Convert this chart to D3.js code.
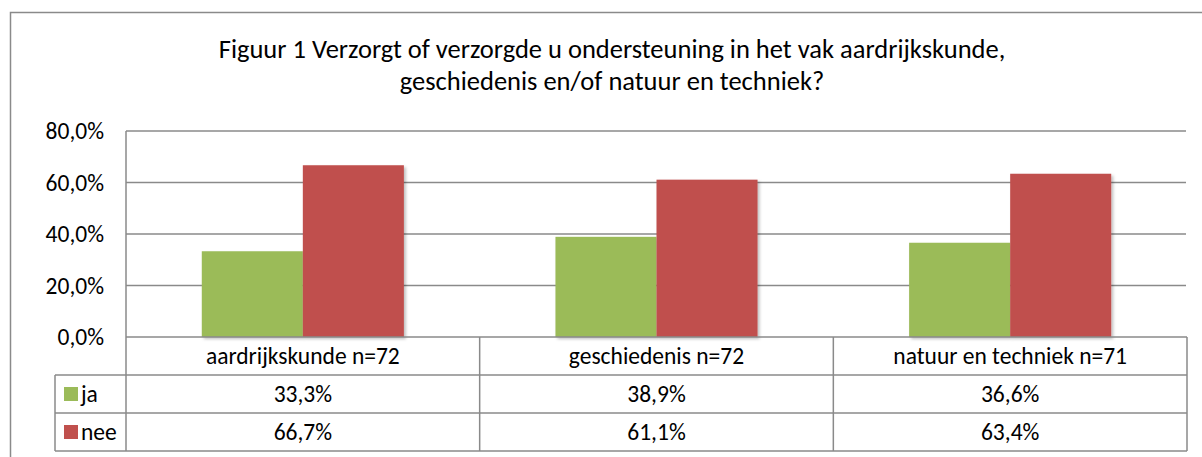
<!DOCTYPE html>
<meta charset="utf-8">
<style>
    body { margin: 0; background: #fff; }
    svg text { font-family: Carlito, Calibri, 'Noto Sans', sans-serif; fill: #000; }
    .grid line { stroke: #8a8a8a; stroke-width: 1.5; }
    .tbl line { stroke: #8a8a8a; stroke-width: 1.5; }
</style>
<body>
<script src="https://cdn.jsdelivr.net/npm/d3@7"></script>
<script>
    // data
    var categories = ["aardrijkskunde n=72", "geschiedenis n=72", "natuur en techniek n=71"];
    var series = ["ja", "nee"];
    var jaValues = [0.333, 0.389, 0.366];
    var neeValues = [0.667, 0.611, 0.634];
    var yTicks = [0, 0.2, 0.4, 0.6, 0.8];
    var titleLines = ["Figuur 1 Verzorgt of verzorgde u ondersteuning in het vak aardrijkskunde,",
                      "geschiedenis en/of natuur en techniek?"];
    var colors = { ja: "#9bbb59", nee: "#c0504d" };

    var width = 1202, height = 457;
    var plotLeft = 126, plotRight = 1187, plotTop = 131, plotBottom = 337;
    var legendLeft = 55, rowH = 38;

    var svg = d3.select("body").append("svg")
        .attr("width", width)
        .attr("height", height);

    var defs = svg.append("defs");
    var f = defs.append("filter").attr("id", "shadow")
        .attr("x", "-10%").attr("y", "-10%").attr("width", "130%").attr("height", "130%");
    f.append("feDropShadow").attr("dx", 2).attr("dy", 2).attr("stdDeviation", 1.5)
        .attr("flood-color", "#000").attr("flood-opacity", 0.25);

    // outer chart border (runs off the picture at right/bottom)
    svg.append("rect")
        .attr("x", 10.5).attr("y", 12.5)
        .attr("width", 1300).attr("height", 600)
        .attr("fill", "none").attr("stroke", "#8a8a8a").attr("stroke-width", 1.5);

    // title
    svg.append("text")
        .attr("x", 612).attr("y", 58)
        .attr("text-anchor", "middle")
        .style("font-size", "26.5px")
        .selectAll("tspan")
        .data(titleLines)
        .enter().append("tspan")
        .attr("x", 612)
        .attr("dy", function(d, i) { return i === 0 ? 0 : 32; })
        .text(function(d) { return d; });

    var y = d3.scaleLinear().domain([0, 0.8]).range([plotBottom, plotTop]);
    var x0 = d3.scaleBand().domain(categories).range([plotLeft, plotRight]).padding(0);
    var x1 = d3.scaleBand().domain(series).range([0, x0.bandwidth()])
        .paddingInner(0).paddingOuter(0.75);

    var fmt = function(v) { return d3.format(".1%")(v).replace(".", ","); };

    // gridlines
    svg.append("g").attr("class", "grid")
        .selectAll("line")
        .data(yTicks.filter(function(t) { return t > 0; }))
        .enter().append("line")
        .attr("x1", plotLeft).attr("x2", plotRight - 1)
        .attr("y1", function(d) { return y(d); })
        .attr("y2", function(d) { return y(d); });

    // y axis labels
    svg.append("g")
        .selectAll("text")
        .data(yTicks)
        .enter().append("text")
        .attr("x", 104)
        .attr("y", function(d) { return y(d) + 8; })
        .attr("text-anchor", "end")
        .style("font-size", "23.5px")
        .text(fmt);

    // bars
    var rows = categories.map(function(c, i) {
        return { cat: c, ja: jaValues[i], nee: neeValues[i] };
    });

    var group = svg.append("g").selectAll("g")
        .data(rows)
        .enter().append("g")
        .attr("transform", function(d) { return "translate(" + x0(d.cat) + ",0)"; });

    group.selectAll("rect")
        .data(function(d) { return series.map(function(s) { return { key: s, value: d[s] }; }); })
        .enter().append("rect")
        .attr("x", function(d) { return x1(d.key); })
        .attr("width", x1.bandwidth())
        .attr("y", function(d) { return y(d.value); })
        .attr("height", function(d) { return y(0) - y(d.value); })
        .attr("fill", function(d) { return colors[d.key]; })
        .attr("filter", "url(#shadow)");

    // data table
    var tbl = svg.append("g").attr("class", "tbl");
    var r0 = plotBottom, r1 = r0 + rowH, r2 = r1 + rowH, r3 = r2 + rowH;

    tbl.append("line").attr("x1", plotLeft).attr("x2", plotLeft).attr("y1", plotTop).attr("y2", r3);
    tbl.append("line").attr("x1", plotLeft).attr("x2", plotRight).attr("y1", r0).attr("y2", r0);
    [r1, r2, r3].forEach(function(yy) {
        tbl.append("line").attr("x1", legendLeft).attr("x2", plotRight).attr("y1", yy).attr("y2", yy);
    });
    tbl.append("line").attr("x1", legendLeft).attr("x2", legendLeft).attr("y1", r1).attr("y2", r3);
    categories.forEach(function(c) {
        var xe = x0(c) + x0.bandwidth();
        tbl.append("line").attr("x1", xe).attr("x2", xe).attr("y1", r0).attr("y2", r3);
    });

    // category header row
    svg.append("g").selectAll("text")
        .data(categories)
        .enter().append("text")
        .attr("x", function(d) { return x0(d) + x0.bandwidth() / 2; })
        .attr("y", r0 + 27)
        .attr("text-anchor", "middle")
        .style("font-size", "23.5px")
        .text(function(d) { return d; });

    // series rows
    var seriesVals = { ja: jaValues, nee: neeValues };
    series.forEach(function(s, si) {
        var top = r1 + si * rowH;
        svg.append("rect")
            .attr("x", 64).attr("y", top + 12)
            .attr("width", 14).attr("height", 14)
            .attr("fill", colors[s]);
        svg.append("text")
            .attr("x", 81).attr("y", top + 27)
            .style("font-size", "23.5px")
            .text(s);
        svg.append("g").selectAll("text")
            .data(seriesVals[s])
            .enter().append("text")
            .attr("x", function(d, i) { return x0(categories[i]) + x0.bandwidth() / 2; })
            .attr("y", top + 27)
            .attr("text-anchor", "middle")
            .style("font-size", "23.5px")
            .text(fmt);
    });
</script>
</body>
